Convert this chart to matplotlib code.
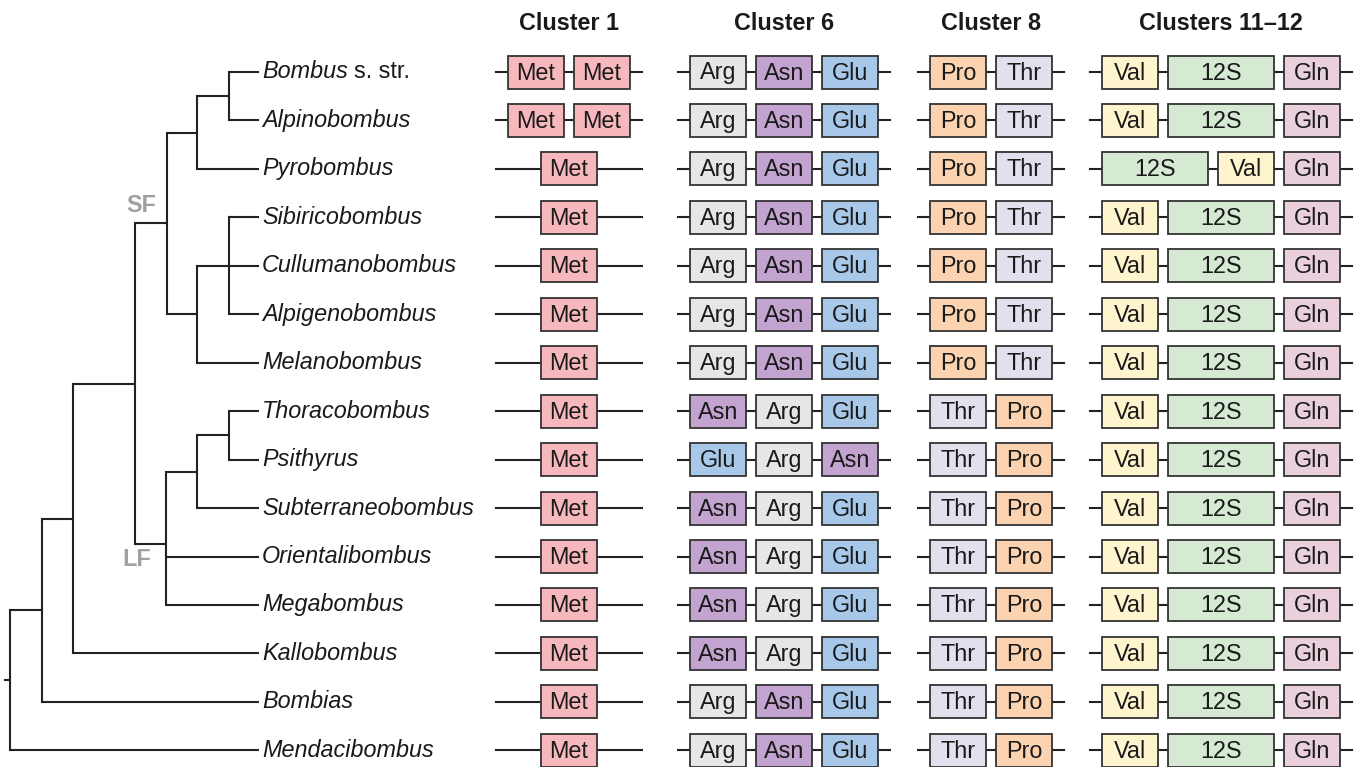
import matplotlib.pyplot as plt
from matplotlib.patches import Rectangle

plt.rcParams['font.family'] = ['Liberation Sans', 'DejaVu Sans']

# subgenera, top to bottom
taxa = ["Bombus", "Alpinobombus", "Pyrobombus", "Sibiricobombus",
        "Cullumanobombus", "Alpigenobombus", "Melanobombus", "Thoracobombus",
        "Psithyrus", "Subterraneobombus", "Orientalibombus", "Megabombus",
        "Kallobombus", "Bombias", "Mendacibombus"]

# gene order in each cluster, per taxon
cluster1 = [["Met", "Met"], ["Met", "Met"]] + [["Met"]] * 13
cluster6 = ([["Arg", "Asn", "Glu"]] * 7 + [["Asn", "Arg", "Glu"]]
            + [["Glu", "Arg", "Asn"]] + [["Asn", "Arg", "Glu"]] * 4
            + [["Arg", "Asn", "Glu"]] * 2)
cluster8 = [["Pro", "Thr"]] * 7 + [["Thr", "Pro"]] * 8
cluster11 = ([["Val", "12S", "Gln"]] * 2 + [["12S", "Val", "Gln"]]
             + [["Val", "12S", "Gln"]] * 12)

headers = ["Cluster 1", "Cluster 6", "Cluster 8", "Clusters 11\u201312"]
columns = [cluster1, cluster6, cluster8, cluster11]
col_centers = [569, 784, 991, 1221]

colors = {"Met": "#F6B8BC", "Arg": "#E6E6E6", "Asn": "#C3A3CF",
          "Glu": "#A8C8EA", "Pro": "#FCD3B1", "Thr": "#E4DFEC",
          "Val": "#FEF4CD", "12S": "#D5E9D3", "Gln": "#EAD0DD"}

# tree: (node x, children); ints are tip rows
clade_F = (229, [7, 8])
clade_E = (197, [clade_F, 9])
clade_LF = (166, [clade_E, 10, 11])
clade_C = (229, [0, 1])
clade_A = (197, [clade_C, 2])
clade_D = (229, [3, 4, 5])
clade_B = (197, [clade_D, 6])
clade_SF = (167, [clade_A, clade_B])
tree = (10, [(42, [(73, [(135, [clade_SF, clade_LF]), 12]), 13]), 14])

FS = 16.8
LC = "#222222"
TC = "#1a1a1a"
row_y = [72 + 48.45 * i for i in range(len(taxa))]
tip_x = 259

fig = plt.figure(figsize=(13.57, 7.67), dpi=100)
ax = fig.add_axes([0, 0, 1, 1])
ax.set_xlim(0, 1357)
ax.set_ylim(767, 0)
ax.axis('off')


def draw(node):
    if isinstance(node, int):
        return tip_x, row_y[node]
    x, kids = node
    ys = []
    for k in kids:
        kx, ky = draw(k)
        ax.plot([x, kx], [ky, ky], color=LC, lw=1.5, solid_capstyle='butt')
        ys.append(ky)
    ax.plot([x, x], [min(ys), max(ys)], color=LC, lw=1.5, solid_capstyle='projecting')
    return x, sum(ys) / len(ys)


rx, ry = draw(tree)
ax.plot([5, rx], [ry, ry], color=LC, lw=1.5)

ax.text(141, 205, "SF", color="#A0A0A0", fontsize=FS, fontweight='bold',
        ha='center', va='center')
ax.text(137, 559, "LF", color="#A0A0A0", fontsize=FS, fontweight='bold',
        ha='center', va='center')

# taxon names
for i, name in enumerate(taxa):
    t = ax.text(262, row_y[i], name, fontsize=FS, style='italic',
                ha='left', va='center', color=TC)
    if i == 0:
        fig.canvas.draw()
        bb = t.get_window_extent()
        xe = ax.transData.inverted().transform((bb.x1, bb.y0))[0]
        ax.text(xe + 6, row_y[i], "s. str.", fontsize=FS,
                ha='left', va='center', color=TC)

# gene clusters
bw, bw12, gap, bh, ext = 56, 106, 10, 33, 12


def widths(genes):
    return [bw12 if g == "12S" else bw for g in genes]


for col, cx, head in zip(columns, col_centers, headers):
    ax.text(cx, 23, head, fontsize=FS, fontweight='bold', ha='center',
            va='center', color=TC)
    full = max(sum(widths(g)) + gap * (len(g) - 1) for g in col)
    for i, genes in enumerate(col):
        y = row_y[i]
        ax.plot([cx - full / 2 - ext, cx + full / 2 + ext], [y, y],
                color=LC, lw=1.5, zorder=1)
        ws = widths(genes)
        total = sum(ws) + gap * (len(genes) - 1)
        x = cx - total / 2
        for g, w in zip(genes, ws):
            ax.add_patch(Rectangle((x, y - bh / 2), w, bh, facecolor=colors[g],
                                   edgecolor="#333333", lw=1.3, zorder=2))
            ax.text(x + w / 2, y + 1, g, fontsize=FS, ha='center', va='center',
                    color=TC, zorder=3)
            x += w + gap

fig.savefig("out.png", dpi=100)
